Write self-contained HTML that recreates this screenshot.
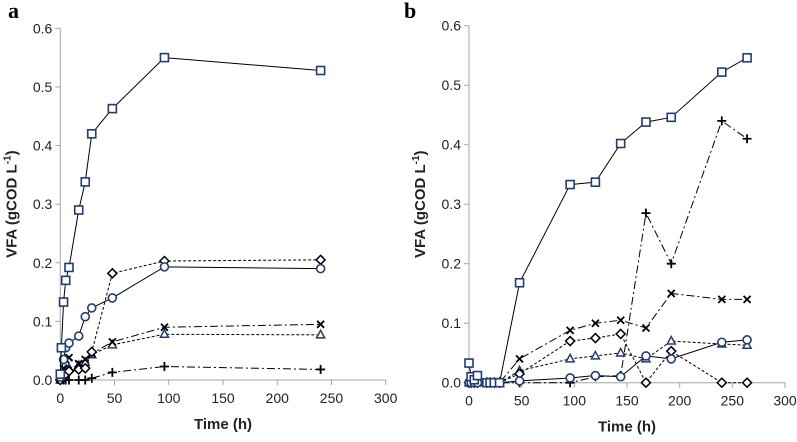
<!DOCTYPE html>
<html><head><meta charset="utf-8"><style>
body{margin:0;background:#fff;}
svg text{font-family:"Liberation Sans",sans-serif;}
svg text.serif{font-family:"Liberation Serif",serif;}
</style></head><body>
<svg id="chart" width="797" height="437" viewBox="0 0 797 437" xmlns="http://www.w3.org/2000/svg"></svg>
<script>
const xTicks=[0,50,100,150,200,250,300];
const yTicks=[0,0.1,0.2,0.3,0.4,0.5,0.6];
const yTickLabels=["0.0","0.1","0.2","0.3","0.4","0.5","0.6"];
// panel a
const timeA=[0,3,5,8,17,23,29,48,96,240];
const aSquare=[0.01,0.055,0.133,0.17,0.192,0.29,0.338,0.42,0.463,0.55,0.528];
const timeASquare=[0,1,3,5,8,17,23,29,48,96,240];
const aCircle=[0.005,0.035,0.055,0.063,0.075,0.108,0.123,0.14,0.193,0.19];
const aDiamond=[0,0.005,0.01,0.015,0.018,0.02,0.048,0.182,0.203,0.205];
const aCross=[0,0.02,0.035,0.038,0.028,0.035,0.045,0.065,0.09,0.095];
const aTriangle=[0,0.01,0.015,0.02,0.025,0.03,0.043,0.06,0.078,0.077];
const aPlus=[0,0,0,0,0,0,0.003,0.013,0.023,0.018];
// panel b
const timeB=[0,2,5,8,17,20,24,29,48,96,120,144,168,192,240,264];
const bSquare=[0.033,0.01,0.005,0.012,0,0,0,0,0.168,0.333,0.337,0.402,0.438,0.446,0.522,0.546];
const bPlus=[0,0,0,0,0,0,0,0,0,0,0.01,0.012,0.285,0.2,0.44,0.41];
const bCross=[0,0,0,0,0,0,0,0,0.04,0.088,0.1,0.105,0.092,0.15,0.14,0.14];
const bDiamond=[0,0,0,0,0,0,0,0,0.015,0.07,0.075,0.082,0,0.053,0,0];
const bTriangle=[0,0,0,0,0,0,0,0,0.02,0.04,0.045,0.05,0.04,0.07,0.065,0.063];
const bCircle=[0,0,0,0,0,0,0,0,0.003,0.008,0.012,0.01,0.045,0.04,0.068,0.072];

const NS="http://www.w3.org/2000/svg";
const svg=document.getElementById('chart');
const BLUE="#1f3c78";
function mk(tag,attrs,parent){const e=document.createElementNS(NS,tag);for(const k in attrs)e.setAttribute(k,attrs[k]);(parent||svg).appendChild(e);return e;}

function panel(id,letter,x0,x1,y0,y1,letterX,series){
  const g=mk('g',{});
  
  
  const sx=v=>x0+(x1-x0)*v/300, sy=v=>y0-(y0-y1)*v/0.6;
  const ax=mk('path',{d:`M${x0} ${y1}V${y0}H${x1}`,stroke:'#a6a6a6','stroke-width':1,fill:'none'},g);
  
  
  yTicks.forEach((v,i)=>{
    mk('line',{x1:x0-5,x2:x0,y1:sy(v),y2:sy(v),stroke:'#a6a6a6'},g);
    const t=mk('text',{x:x0-8,y:sy(v)+5,'text-anchor':'end','font-size':14,fill:'#222'},g);
    t.textContent=yTickLabels[i];
    
    
  });
  xTicks.forEach(v=>{
    mk('line',{x1:sx(v),x2:sx(v),y1:y0,y2:y0+5,stroke:'#a6a6a6'},g);
    const t=mk('text',{x:sx(v),y:y0+23,'text-anchor':'middle','font-size':14,fill:'#222'},g);
    t.textContent=v;
    
    
  });
  const xt=mk('text',{x:(x0+x1)/2,y:y0+49,'text-anchor':'middle','font-size':15,'font-weight':'bold',fill:'#222'},g);
  xt.textContent='Time (h)';
  
  
  const yt=mk('text',{transform:`translate(${x0-44},${(y0+y1)/2}) rotate(-90)`,'text-anchor':'middle','font-size':15,'font-weight':'bold',fill:'#222'},g);
  yt.innerHTML='VFA (gCOD L<tspan dy="-6" font-size="10">-1</tspan><tspan dy="6">)</tspan>';
  
  
  const lt=mk('text',{x:letterX,y:18,'font-size':22,'font-weight':'bold','class':'serif',fill:'#000'},g);
  lt.textContent=letter;
  
  
  series.forEach(s=>{
    const sg=mk('g',{},g);
    
    
    const pts=s.t.map((t,i)=>[sx(t),sy(s.v[i])]);
    mk('polyline',{points:pts.map(p=>p.join(',')).join(' '),fill:'none',stroke:'#000','stroke-width':1,'stroke-dasharray':s.dash||''},sg);
    pts.forEach(([x,y])=>{
      let m;
      const c=s.color;
      if(s.m==='square')m=mk('rect',{x:x-4,y:y-4,width:8,height:8,fill:'#fff',stroke:c,'stroke-width':1.6},sg);
      else if(s.m==='circle')m=mk('circle',{cx:x,cy:y,r:4,fill:'#fff',stroke:c,'stroke-width':1.6},sg);
      else if(s.m==='diamond')m=mk('path',{d:`M${x} ${y-4.5}L${x+4.5} ${y}L${x} ${y+4.5}L${x-4.5} ${y}Z`,fill:'#fff',stroke:c,'stroke-width':1.5},sg);
      else if(s.m==='triangle')m=mk('path',{d:`M${x} ${y-4.5}L${x+4} ${y+3}L${x-4} ${y+3}Z`,fill:'#fff',stroke:c,'stroke-width':1.5},sg);
      else if(s.m==='cross')m=mk('path',{d:`M${x-3.5} ${y-3.5}L${x+3.5} ${y+3.5}M${x+3.5} ${y-3.5}L${x-3.5} ${y+3.5}`,stroke:c,'stroke-width':1.8},sg);
      else m=mk('path',{d:`M${x-4.5} ${y}H${x+4.5}M${x} ${y-4.5}V${y+4.5}`,stroke:c,'stroke-width':1.8},sg);
      
      
    });
  });
}
panel('a','a',60.3,385.7,380,28.3,8,[
  {name:'plus',t:timeA,v:aPlus,m:'plus',color:'#000',dash:'8,3,2,3'},
  {name:'triangle',t:timeA,v:aTriangle,m:'triangle',color:BLUE,dash:'3,2'},
  {name:'cross',t:timeA,v:aCross,m:'cross',color:'#000',dash:'8,3,2,3'},
  {name:'diamond',t:timeA,v:aDiamond,m:'diamond',color:'#000',dash:'3,2'},
  {name:'circle',t:timeA,v:aCircle,m:'circle',color:BLUE},
  {name:'square',t:timeASquare,v:aSquare,m:'square',color:BLUE}
]);
panel('b','b',469,785,382.7,25.7,404,[
  {name:'plus',t:timeB,v:bPlus,m:'plus',color:'#000',dash:'8,3,2,3'},
  {name:'triangle',t:timeB,v:bTriangle,m:'triangle',color:BLUE,dash:'3,2'},
  {name:'cross',t:timeB,v:bCross,m:'cross',color:'#000',dash:'8,3,2,3'},
  {name:'diamond',t:timeB,v:bDiamond,m:'diamond',color:'#000',dash:'3,2'},
  {name:'circle',t:timeB,v:bCircle,m:'circle',color:BLUE},
  {name:'square',t:timeB,v:bSquare,m:'square',color:BLUE}
]);
</script>
</body></html>
